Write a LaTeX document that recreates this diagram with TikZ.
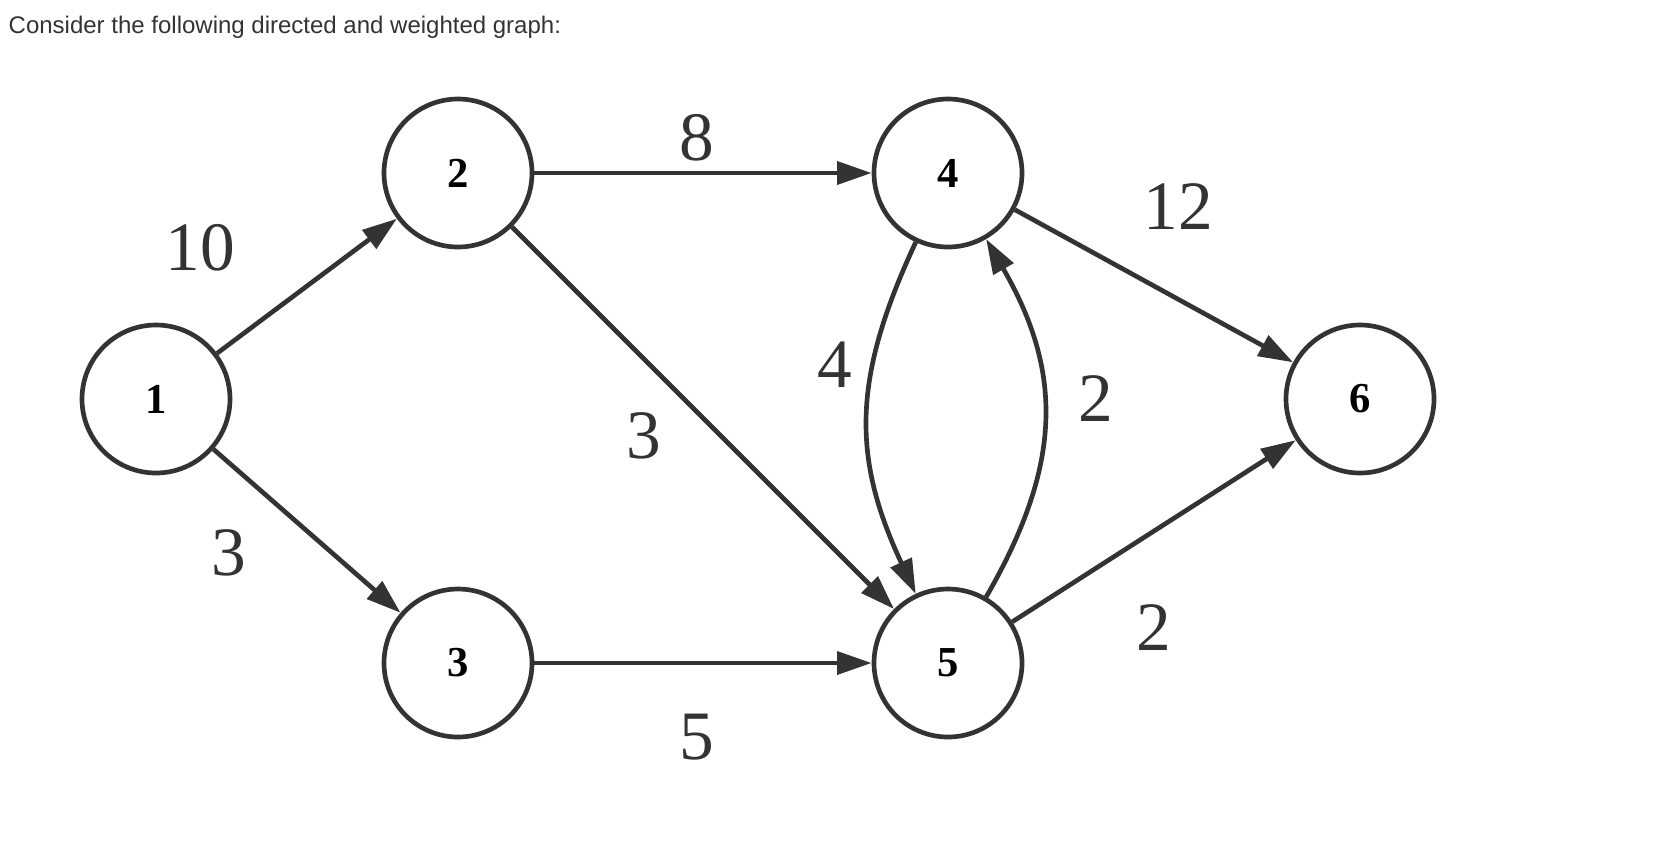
\documentclass[tikz,border=0pt]{standalone}
\usepackage{fontspec}
\setmainfont{Liberation Serif}
\newfontfamily\titlefont{Liberation Sans}
\usetikzlibrary{arrows.meta}
\begin{document}
\begin{tikzpicture}[x=0.75pt, y=-0.75pt,
    vertex/.style={circle, draw=black!80, line width=3.5pt, minimum size=148*0.75pt,
        inner sep=0pt, font=\fontsize{32}{32}\selectfont\bfseries},
    edge/.style={draw=black!80, line width=3.5pt, -{Triangle[length=26pt, width=17pt]}},
    weight/.style={font=\fontsize{52}{52}\selectfont, text=black!80}]
    \useasboundingbox (0,0) rectangle (1660,840);
    \node[anchor=west, font=\titlefont\fontsize{18}{18}\selectfont, text=black!80] (title) at (4,27) {Consider the following directed and weighted graph:};

    % vertices
    \node[vertex] (n1) at (156,399) {1};
    \node[vertex] (n2) at (458,173) {2};
    \node[vertex] (n3) at (458,663) {3};
    \node[vertex] (n4) at (948,173) {4};
    \node[vertex] (n5) at (948,663) {5};
    \node[vertex] (n6) at (1360,399) {6};

    % edges
    \draw[edge] (n1) -- (n2);
    \draw[edge] (n1) -- (n3);
    \draw[edge] (n2) -- (n4);
    \draw[edge] (n2) -- (n5);
    \draw[edge] (n3) -- (n5);
    \draw[edge] (n4) -- (n6);
    \draw[edge] (n5) -- (n6);
    \draw[edge] (n4) to[out=-115, in=115, looseness=1.1] (n5);
    \draw[edge] (n5) to[out=60, in=-60, looseness=1.1] (n4);

    % weights
    \node[weight] (w12) at (200,248) {10};
    \node[weight] (w13) at (229,553) {3};
    \node[weight] (w24) at (697,138) {8};
    \node[weight] (w25) at (644,436) {3};
    \node[weight] (w35) at (697,737) {5};
    \node[weight] (w45) at (835,365) {4};
    \node[weight] (w54) at (1096,399) {2};
    \node[weight] (w46) at (1178,207) {12};
    \node[weight] (w56) at (1154,628) {2};
\end{tikzpicture}
\end{document}
